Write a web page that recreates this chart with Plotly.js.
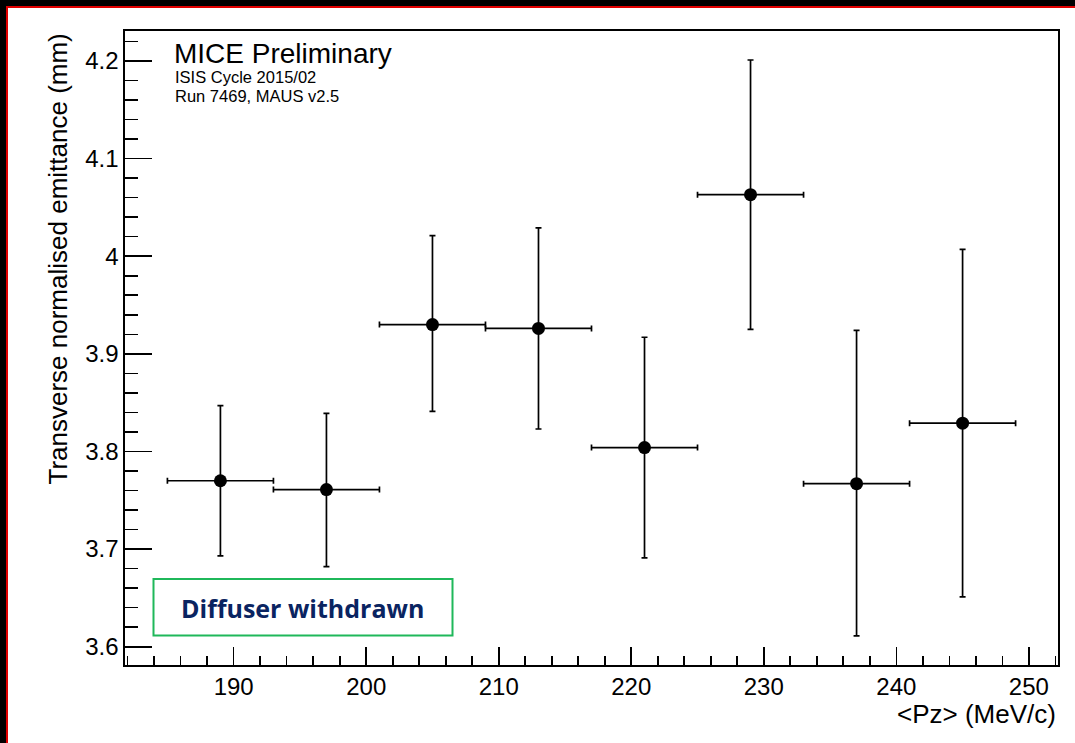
<!DOCTYPE html>
<html>
<head>
<meta charset="utf-8">
<script src="https://cdn.plot.ly/plotly-3.0.1.min.js"></script>
<style>
  html, body { margin: 0; padding: 0; background: #fff; }
  #wrap { position: relative; width: 1075px; height: 743px; overflow: hidden; }
  #chart { position: absolute; left: 0; top: 0; width: 1075px; height: 743px; }
  .bk { position: absolute; background: #000; pointer-events: none; }
  .rd { position: absolute; background: #e00000; pointer-events: none; }
</style>
</head>
<body>
<div id="wrap">
  <div id="chart"></div>
  <div class="bk" style="left:0;top:0;width:1075px;height:6px;"></div>
  <div class="bk" style="left:0;top:0;width:6px;height:743px;"></div>
  <div class="rd" style="left:6px;top:6px;width:1069px;height:2px;"></div>
  <div class="rd" style="left:6px;top:6px;width:2px;height:737px;"></div>
</div>
<script>
// Data
var pzCentres   = [189, 197, 205, 213, 221, 229, 237, 245];
var pzHalfWidth = [4, 4, 4, 4, 4, 4, 4, 4];
var emittance   = [3.770, 3.761, 3.930, 3.926, 3.804, 4.063, 3.767, 3.829];
var errUp       = [3.847, 3.839, 4.021, 4.029, 3.917, 4.201, 3.924, 4.007];
var errDown     = [3.693, 3.682, 3.841, 3.823, 3.691, 3.925, 3.611, 3.651];

var xTickVals = [190, 200, 210, 220, 230, 240, 250];
var yTickVals = [3.6, 3.7, 3.8, 3.9, 4.0, 4.1, 4.2];
var yTickText = ["3.6", "3.7", "3.8", "3.9", "4", "4.1", "4.2"];

var plus = emittance.map(function (v, i) { return errUp[i] - v; });
var minus = emittance.map(function (v, i) { return v - errDown[i]; });

var trace = {
  x: pzCentres,
  y: emittance,
  type: 'scatter',
  mode: 'markers',
  marker: { color: '#000', size: 13, symbol: 'circle' },
  error_x: { type: 'data', array: pzHalfWidth, visible: true, color: '#000', thickness: 1.7, width: 3 },
  error_y: { type: 'data', symmetric: false, array: plus, arrayminus: minus, visible: true, color: '#000', thickness: 1.7, width: 3 },
  hoverinfo: 'x+y'
};

// pixel -> paper helpers (plot area: x 125..1058, y 31..665)
function px(x) { return (x - 125) / 933; }
function py(y) { return (665 - y) / 634; }

var fontMain = 'Liberation Sans, Arial, Helvetica, sans-serif';

var layout = {
  width: 1075,
  height: 743,
  margin: { l: 125, r: 17, t: 31, b: 78, pad: 0 },
  paper_bgcolor: '#fff',
  plot_bgcolor: '#fff',
  showlegend: false,
  font: { family: fontMain, color: '#000', size: 24 },
  xaxis: {
    range: [181.8, 252.2],
    showline: true, mirror: true, linecolor: '#000', linewidth: 1.6,
    showgrid: false, zeroline: false,
    tickmode: 'array', tickvals: xTickVals,
    ticks: 'inside', ticklen: 18, tickwidth: 1.6, tickcolor: '#000',
    tickfont: { family: fontMain, size: 24, color: '#000' },
    minor: { tickmode: 'linear', tick0: 0, dtick: 2, ticks: 'inside', ticklen: 9, tickwidth: 1.6, tickcolor: '#000', showgrid: false }
  },
  yaxis: {
    range: [3.58125, 4.2307],
    showline: true, mirror: true, linecolor: '#000', linewidth: 1.6,
    showgrid: false, zeroline: false,
    tickmode: 'array', tickvals: yTickVals, ticktext: yTickText,
    ticks: 'inside', ticklen: 27, tickwidth: 1.6, tickcolor: '#000',
    tickfont: { family: fontMain, size: 24, color: '#000' },
    minor: { tickmode: 'linear', tick0: 0, dtick: 0.02, ticks: 'inside', ticklen: 13, tickwidth: 1.6, tickcolor: '#000', showgrid: false }
  },
  shapes: [
    { type: 'rect', xref: 'paper', yref: 'paper',
      x0: px(153.5), x1: px(452.5), y0: py(635.5), y1: py(579),
      line: { color: '#1fb85a', width: 2 }, fillcolor: '#fff' }
  ],
  annotations: [
    { xref: 'paper', yref: 'paper', x: 1, y: py(697), xanchor: 'right', yanchor: 'top',
      text: '&lt;Pz&gt; (MeV/c)', showarrow: false,
      font: { family: fontMain, size: 26, color: '#000' } },
    { xref: 'paper', yref: 'paper', x: px(57), y: py(32), xanchor: 'center', yanchor: 'top',
      text: 'Transverse normalised emittance (mm)', textangle: -90, showarrow: false,
      font: { family: fontMain, size: 26, color: '#000' } },
    { xref: 'paper', yref: 'paper', x: px(172), y: py(36.5), xanchor: 'left', yanchor: 'top',
      text: 'MICE Preliminary', showarrow: false,
      font: { family: fontMain, size: 28, color: '#000' } },
    { xref: 'paper', yref: 'paper', x: px(173), y: py(65.5), xanchor: 'left', yanchor: 'top',
      text: 'ISIS Cycle 2015/02', showarrow: false,
      font: { family: fontMain, size: 16.5, color: '#000' } },
    { xref: 'paper', yref: 'paper', x: px(173), y: py(84.5), xanchor: 'left', yanchor: 'top',
      text: 'Run 7469, MAUS v2.5', showarrow: false,
      font: { family: fontMain, size: 16.5, color: '#000' } },
    { xref: 'paper', yref: 'paper', x: px(302), y: py(608), xanchor: 'center', yanchor: 'middle',
      text: '<b>Diffuser withdrawn</b>', showarrow: false,
      font: { family: 'Open Sans, Lato, sans-serif', size: 25, color: '#0a2461' } }
  ]
};

Plotly.newPlot('chart', [trace], layout, { staticPlot: true, displayModeBar: false });
</script>
</body>
</html>
